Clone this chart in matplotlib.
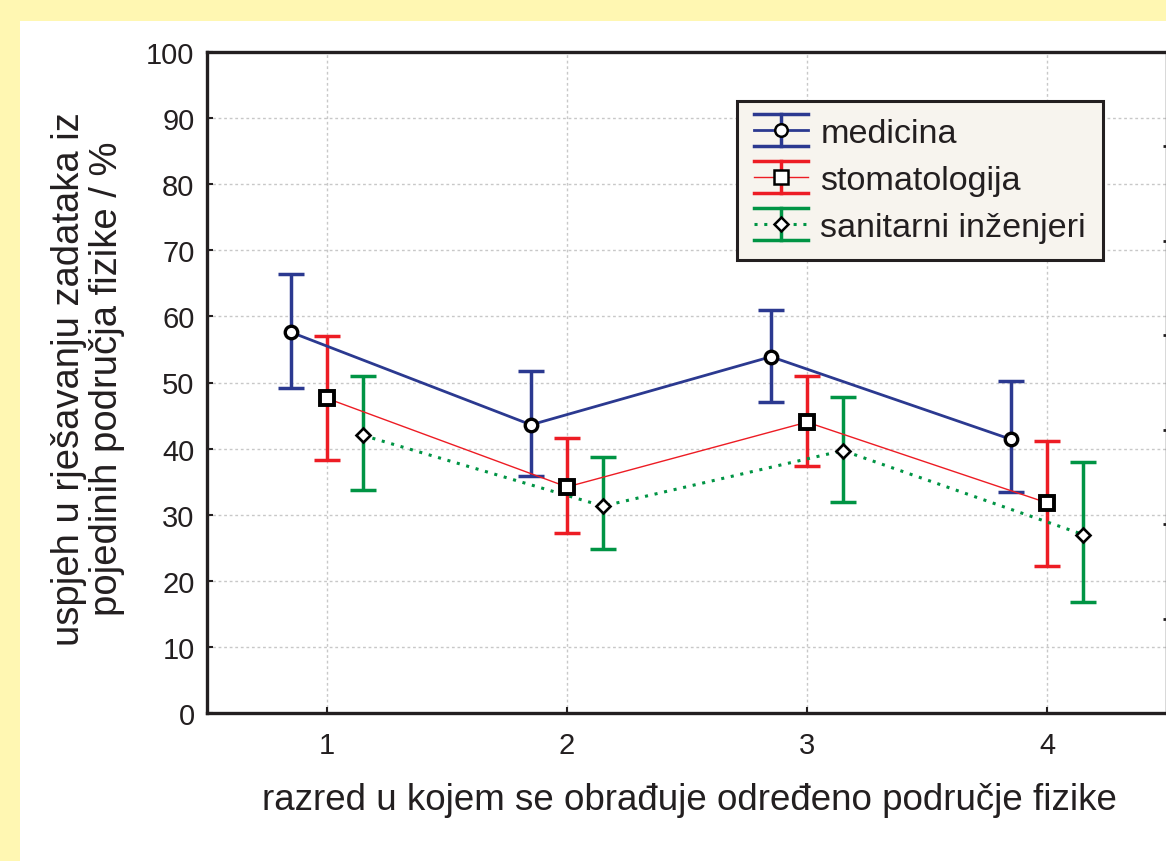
import matplotlib
matplotlib.use("Agg")
import matplotlib.pyplot as plt
from matplotlib.lines import Line2D
from matplotlib.legend_handler import HandlerBase
from matplotlib.patches import Rectangle

categories = [1, 2, 3, 4]
series_names = ["medicina", "stomatologija", "sanitarni inženjeri"]
med_mean = [57.6, 43.6, 53.9, 41.4]
med_low = [49.2, 35.8, 47.0, 33.4]
med_high = [66.4, 51.7, 60.9, 50.2]
sto_mean = [47.6, 34.2, 44.0, 31.8]
sto_low = [38.3, 27.3, 37.3, 22.3]
sto_high = [57.0, 41.6, 51.0, 41.2]
san_mean = [42.0, 31.3, 39.7, 27.0]
san_low = [33.8, 24.8, 31.9, 16.8]
san_high = [51.0, 38.7, 47.8, 38.0]
offsets = [-0.15, 0.0, 0.15]

y_ticks = [0, 10, 20, 30, 40, 50, 60, 70, 80, 90, 100]

plt.rcParams['font.family'] = ['Liberation Sans', 'DejaVu Sans']
TXT = '#231F20'
BLUE = '#2B3990'
RED = '#ED1C24'
GREEN = '#009444'

W, H = 1166, 862
fig = plt.figure(figsize=(W / 100, H / 100), dpi=100, facecolor='#FFF7B2')
fig.patches.append(Rectangle((20 / W, 0), 1, 1 - 22 / H, transform=fig.transFigure,
                             facecolor='white', edgecolor='none', zorder=-10))

ax = fig.add_axes([207 / W, (H - 714) / H, (1167 - 207) / W, (714 - 53) / H])
ax.set_facecolor('white')

styles = [
    dict(color=BLUE, lw=2.0, ls='-', marker='o', ms=9, mew=2.4),
    dict(color=RED, lw=1.0, ls='-', marker='s', ms=10, mew=2.8),
    dict(color=GREEN, lw=2.2, ls=(0, (1, 2.2)), marker='D', ms=7, mew=1.9),
]
data = [(med_mean, med_low, med_high), (sto_mean, sto_low, sto_high), (san_mean, san_low, san_high)]

for (mean, low, high), off, st in zip(data, offsets, styles):
    xs = [c + off for c in categories]
    yerr = [[m - l for m, l in zip(mean, low)], [h - m for m, h in zip(mean, high)]]
    ax.errorbar(xs, mean, yerr=yerr, fmt='none', ecolor=st['color'], elinewidth=2.5,
                capsize=9.5, capthick=2.5, zorder=3)
    ax.plot(xs, mean, color=st['color'], lw=st['lw'], ls=st['ls'], zorder=4)
    ax.plot(xs, mean, ls='none', marker=st['marker'], ms=st['ms'], mfc='white',
            mec='black', mew=st['mew'], zorder=5)

ax.set_xlim(0.5, 4.5)
ax.set_ylim(0, 100)
ax.set_xticks(categories)
ax.set_yticks(y_ticks)
ax.tick_params(direction='in', length=4, width=1.5, colors=TXT, labelsize=21)
ax.tick_params(axis='x', pad=13)
ax.tick_params(axis='y', pad=9)
ax.grid(True, color='#C8C8C8', ls=(0, (2, 2)), lw=1.0)
ax.set_axisbelow(True)
for s in ax.spines.values():
    s.set_linewidth(2.4)
    s.set_color(TXT)

ax2 = ax.twinx()
ax2.set_ylim(0, 7)
ax2.set_yticks(range(8))
ax2.tick_params(direction='in', length=3, width=2, colors=TXT, labelright=False)
for s in ax2.spines.values():
    s.set_visible(False)

fig.text((262 + 1117) / 2 / W, 1 - 801 / H,
         "razred u kojem se obrađuje određeno područje fizike",
         ha='center', va='center', fontsize=26.5, color=TXT)
fig.text(88 / W, 1 - 379 / H,
         "uspjeh u rješavanju zadataka iz\npojedinih područja fizike / %",
         ha='center', va='center', rotation=90, fontsize=27.5, color=TXT,
         linespacing=1.05, multialignment='center')


class ErrHandler(HandlerBase):
    def __init__(self, st):
        super().__init__()
        self.st = st

    def create_artists(self, legend, orig_handle, xdescent, ydescent, width, height,
                       fontsize, trans):
        st = self.st
        x0, x1 = -xdescent, -xdescent + width
        xm = (x0 + x1) / 2
        yc = -ydescent + height / 2
        d = 11.5
        arts = [
            Line2D([x0, x1], [yc + d, yc + d], color=st['color'], lw=2.5),
            Line2D([x0, x1], [yc - d, yc - d], color=st['color'], lw=2.5),
            Line2D([xm, xm], [yc - d, yc + d], color=st['color'], lw=2.5),
            Line2D([x0, x1], [yc, yc], color=st['color'], lw=st['lw'], ls=st['ls']),
            Line2D([xm], [yc], marker=st['marker'], ms=st['ms'], mfc='white',
                   mec='black', mew=1.8, ls='none'),
        ]
        for a in arts:
            a.set_transform(trans)
        return arts


handles = [Line2D([], [], color=st['color']) for st in styles]
leg = fig.legend(handles, series_names, loc='upper left',
                 bbox_to_anchor=(737 / W, 1 - 102 / H), bbox_transform=fig.transFigure,
                 borderaxespad=0, fontsize=24.6, frameon=True, fancybox=False,
                 handler_map={h: ErrHandler(st) for h, st in zip(handles, styles)},
                 handlelength=1.57, handletextpad=0.37, labelspacing=0.46,
                 borderpad=0.5)
leg.get_frame().set_facecolor('#F7F4EE')
leg.get_frame().set_edgecolor(TXT)
leg.get_frame().set_linewidth(2.2)
leg.get_frame().set_alpha(1)
for t in leg.get_texts():
    t.set_color(TXT)

fig.savefig('out.png', dpi=100, facecolor=fig.get_facecolor())
